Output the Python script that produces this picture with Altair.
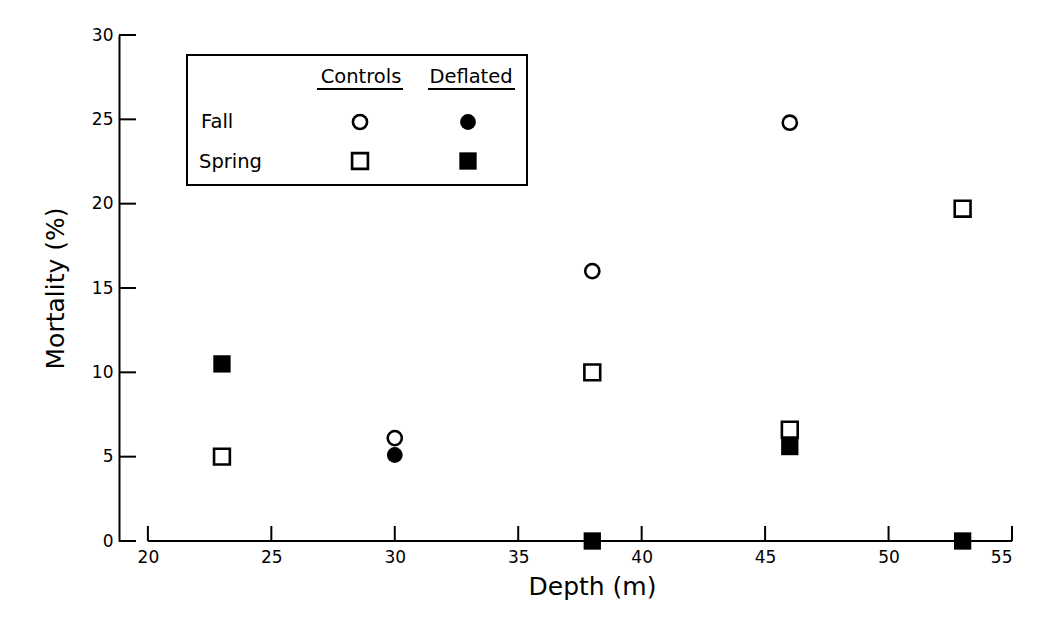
import altair as alt
import pandas as pd

# ---- data ----
fall_ctrl_depth = [30, 38, 46]
fall_ctrl_mort = [6.1, 16.0, 24.8]
fall_defl_depth = [30]
fall_defl_mort = [5.1]
spring_ctrl_depth = [23, 38, 46, 53]
spring_ctrl_mort = [5.0, 10.0, 6.6, 19.7]
spring_defl_depth = [23, 38, 46, 53]
spring_defl_mort = [10.5, 0.0, 5.6, 0.0]

x_ticks = [20, 25, 30, 35, 40, 45, 50, 55]
y_ticks = [0, 5, 10, 15, 20, 25, 30]
x_title = "Depth (m)"
y_title = "Mortality (%)"
legend_cols = ["Controls", "Deflated"]
legend_rows = ["Fall", "Spring"]

W, H = 893, 506
FONT = "DejaVu Sans"

xs = alt.Scale(domain=[18.83, 55], nice=False, zero=False)
ys = alt.Scale(domain=[0, 30], nice=False, zero=False)

X_AX = alt.Axis(
    values=x_ticks, domain=False, ticks=False, grid=False, labelPadding=8,
    labelFontSize=17, labelFont=FONT, labelColor="black",
    title=x_title, titleFont=FONT, titleFontSize=25, titleFontWeight="normal",
    titleColor="black", titleX=473, titleY=33)
Y_AX = alt.Axis(
    values=y_ticks, domain=True, domainColor="black", domainWidth=2,
    ticks=False, grid=False, labelPadding=6, labelFontSize=17,
    labelFont=FONT, labelColor="black",
    title=y_title, titleFont=FONT, titleFontSize=25, titleFontWeight="normal",
    titleColor="black", titleX=-51)


def XE(field="depth"):
    return alt.X(f"{field}:Q", scale=xs, axis=X_AX, title=x_title)


def YE(field="mort"):
    return alt.Y(f"{field}:Q", scale=ys, axis=Y_AX, title=y_title)


def frame(depth, mort):
    return pd.DataFrame({"depth": depth, "mort": mort})


def pts(df, shape, filled, size):
    return alt.Chart(df).mark_point(
        shape=shape, filled=filled, color="black", size=size,
        strokeWidth=2.6, opacity=1, fillOpacity=1
    ).encode(x=XE(), y=YE())


y_tick_rules = alt.Chart(pd.DataFrame({"mort": y_ticks})).mark_rule(
    color="black", strokeWidth=2).encode(
    y=YE(), x=alt.value(0), x2=alt.value(17))

x_line = alt.Chart(pd.DataFrame({"depth": [x_ticks[0]], "depth2": [x_ticks[-1]], "mort": [0]})).mark_rule(
    color="black", strokeWidth=2).encode(
    x=XE(), x2="depth2:Q", y=YE())

x_tick_rules = alt.Chart(pd.DataFrame({"depth": x_ticks})).mark_rule(
    color="black", strokeWidth=2).encode(
    x=XE(), y=alt.value(H), y2=alt.value(H - 15))

one = pd.DataFrame({"k": [0]})

legend_box = alt.Chart(one).mark_rect(fill="white", stroke="black", strokeWidth=2).encode(
    x=alt.value(68), x2=alt.value(408), y=alt.value(20), y2=alt.value(150))


def ltext(txt, x, y, align):
    return alt.Chart(one).mark_text(font=FONT, fontSize=19.5, align=align, baseline="middle",
                                    color="black").encode(
        x=alt.value(x), y=alt.value(y), text=alt.value(txt))


def lrule(x1, x2, y):
    return alt.Chart(one).mark_rule(color="black", strokeWidth=2).encode(
        x=alt.value(x1), x2=alt.value(x2), y=alt.value(y))


def lsym(shape, filled, size, x, y):
    return alt.Chart(one).mark_point(shape=shape, filled=filled, color="black", size=size,
                                     strokeWidth=2.6, opacity=1).encode(
        x=alt.value(x), y=alt.value(y))


C_OPEN, C_FILL, S_OPEN, S_FILL = 200, 250, 250, 300

legend = [
    legend_box,
    ltext(legend_cols[0], 242, 42, "center"), ltext(legend_cols[1], 352, 42, "center"),
    lrule(198, 284, 54), lrule(309, 396, 54),
    ltext(legend_rows[0], 82, 87, "left"), ltext(legend_rows[1], 80, 127, "left"),
    lsym("circle", False, C_OPEN, 241, 87), lsym("circle", True, C_FILL, 349, 87),
    lsym("square", False, S_OPEN, 241, 126), lsym("square", True, S_FILL, 349, 126),
]

chart = alt.layer(
    y_tick_rules, x_line, x_tick_rules,
    pts(frame(spring_ctrl_depth, spring_ctrl_mort), "square", False, S_OPEN),
    pts(frame(fall_ctrl_depth, fall_ctrl_mort), "circle", False, C_OPEN),
    pts(frame(spring_defl_depth, spring_defl_mort), "square", True, S_FILL),
    pts(frame(fall_defl_depth, fall_defl_mort), "circle", True, C_FILL),
    *legend,
).properties(
    width=W, height=H,
    autosize=alt.AutoSizeParams(type="none"),
    padding={"left": 111, "top": 27, "right": 20, "bottom": 70},
    background="white",
).configure_view(stroke=None)

chart.save("out.html", embed_options={"renderer": "svg", "actions": False})
